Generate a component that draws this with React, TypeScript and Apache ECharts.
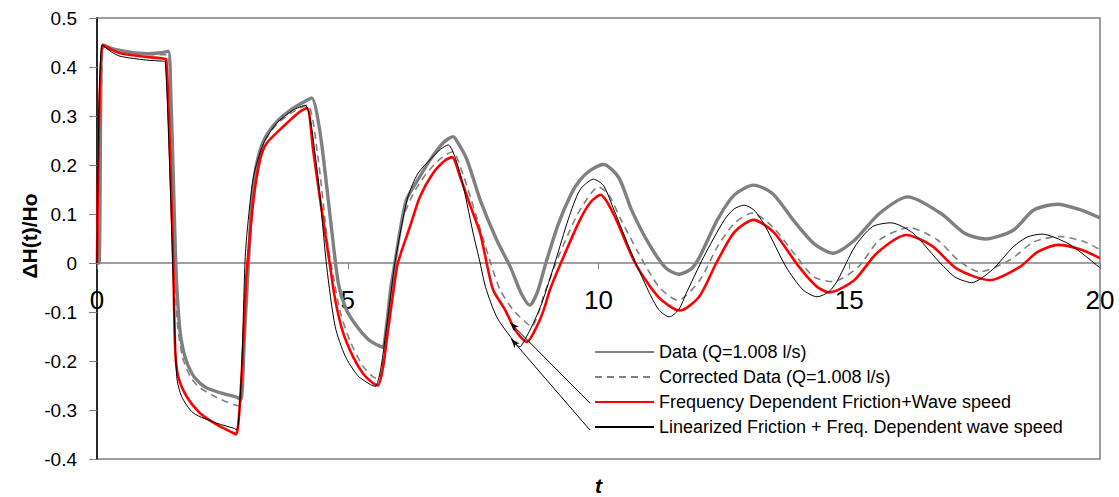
import React, { useEffect, useRef } from 'react';
import * as echarts from 'echarts';

// ---- axis ranges / ticks ----
const xMin = 0;
const xMax = 20;
const xInterval = 5;
const yMin = -0.4;
const yMax = 0.5;
const yInterval = 0.1;

// ---- texts ----
const yTitle = 'ΔH(t)/Ho';
const xTitle = 't';
const seriesNames = [
  'Data (Q=1.008 l/s)',
  'Corrected Data (Q=1.008 l/s)',
  'Frequency Dependent Friction+Wave speed',
  'Linearized Friction + Freq. Dependent wave speed',
];

// ---- series values [t, ΔH/Ho] ----
const dataMeasured: [number, number][] = [
  [0, 0], [0.04, 0.0], [0.12, 0.445], [0.32, 0.437], [0.66, 0.43], [0.99, 0.427], [1.26, 0.429], [1.42, 0.432],
  [1.47, 0.35], [1.52, 0.18], [1.57, 0.0], [1.61, -0.08], [1.66, -0.143], [1.75, -0.19], [1.89, -0.225],
  [2.05, -0.245], [2.19, -0.255], [2.5, -0.266], [2.79, -0.274], [2.87, -0.278], [2.94, -0.15], [3.02, 0.0],
  [3.1, 0.14], [3.2, 0.21], [3.35, 0.255], [3.6, 0.29], [3.9, 0.315], [4.15, 0.33], [4.28, 0.337],
  [4.45, 0.265], [4.65, 0.094], [4.81, -0.04], [4.95, -0.09], [5.15, -0.125], [5.4, -0.155], [5.6, -0.168],
  [5.7, -0.172], [5.77, -0.13], [5.86, -0.05], [5.94, 0.0], [6.05, 0.07], [6.17, 0.129], [6.37, 0.165],
  [6.64, 0.21], [6.9, 0.245], [7.1, 0.258], [7.2, 0.245], [7.38, 0.21], [7.64, 0.129], [7.97, 0.047],
  [8.25, -0.01], [8.45, -0.06], [8.63, -0.086], [8.78, -0.06], [8.95, 0.0], [9.2, 0.08], [9.45, 0.14],
  [9.63, 0.169], [9.85, 0.19], [10.1, 0.201], [10.4, 0.175], [10.66, 0.108], [11.0, 0.04], [11.34, -0.01],
  [11.6, -0.023], [11.85, -0.012], [12.02, 0.013], [12.37, 0.088], [12.71, 0.139], [13.09, 0.159],
  [13.47, 0.142], [13.88, 0.088], [14.29, 0.04], [14.67, 0.02], [15.11, 0.047], [15.6, 0.101],
  [16.17, 0.135], [16.83, 0.101], [17.31, 0.06], [17.72, 0.049], [18.27, 0.067], [18.68, 0.108],
  [19.15, 0.12], [19.63, 0.108], [20.0, 0.092],
];

const dataCorrected: [number, number][] = [
  [0, 0], [0.05, 0.0], [0.13, 0.442], [0.4, 0.435], [0.7, 0.428], [1.0, 0.425], [1.4, 0.425], [1.46, 0.35],
  [1.51, 0.18], [1.55, 0.0], [1.6, -0.12], [1.7, -0.19], [1.85, -0.23], [2.02, -0.252], [2.3, -0.27],
  [2.55, -0.282], [2.75, -0.29], [2.85, -0.292], [2.92, -0.15], [3.0, 0.0], [3.1, 0.15], [3.2, 0.21],
  [3.35, 0.25], [3.6, 0.285], [3.9, 0.308], [4.2, 0.322], [4.4, 0.22], [4.6, 0.04], [4.7, -0.02],
  [4.85, -0.1], [5.05, -0.16], [5.3, -0.21], [5.5, -0.232], [5.62, -0.237], [5.72, -0.19], [5.82, -0.1],
  [5.95, 0.0], [6.1, 0.09], [6.3, 0.14], [6.55, 0.18], [6.85, 0.213], [7.09, 0.227], [7.3, 0.18],
  [7.55, 0.1], [7.85, 0.0], [8.04, -0.055], [8.3, -0.096], [8.57, -0.123], [8.67, -0.13], [8.8, -0.103],
  [8.9, -0.069], [9.15, 0.0], [9.4, 0.06], [9.63, 0.108], [10.0, 0.155], [10.2, 0.14], [10.45, 0.088],
  [10.8, 0.02], [11.2, -0.048], [11.58, -0.076], [12.02, -0.035], [12.37, 0.033], [12.71, 0.081],
  [13.06, 0.102], [13.47, 0.074], [13.95, 0.013], [14.29, -0.028], [14.67, -0.038], [15.18, -0.008],
  [15.6, 0.047], [16.2, 0.072], [16.76, 0.047], [17.17, 0.006], [17.6, -0.018], [18.2, 0.006],
  [18.68, 0.043], [19.2, 0.054], [19.7, 0.043], [20.0, 0.027],
];

const freqDependent: [number, number][] = [
  [0, 0], [0.11, 0.445], [0.3, 0.435], [0.46, 0.428], [0.86, 0.422], [1.33, 0.417], [1.38, 0.416], [1.45, 0.25],
  [1.52, 0.0], [1.56, -0.178], [1.62, -0.232], [1.79, -0.273], [2.05, -0.306], [2.39, -0.33],
  [2.72, -0.347], [2.77, -0.35], [2.82, -0.327], [2.9, -0.2], [2.97, -0.04], [3.0, 0.0], [3.12, 0.129],
  [3.25, 0.21], [3.38, 0.244], [3.71, 0.278], [4.05, 0.309], [4.19, 0.316], [4.31, 0.23], [4.45, 0.129],
  [4.65, -0.008], [4.75, -0.075], [4.9, -0.14], [5.1, -0.19], [5.3, -0.225], [5.5, -0.245], [5.6, -0.25],
  [5.7, -0.215], [5.8, -0.14], [5.9, -0.065], [6.0, 0.0], [6.24, 0.074], [6.44, 0.135], [6.7, 0.183],
  [6.95, 0.21], [7.08, 0.216], [7.24, 0.176], [7.45, 0.115], [7.64, 0.061], [7.77, 0.0], [7.9, -0.055],
  [8.14, -0.096], [8.34, -0.137], [8.57, -0.161], [8.8, -0.123], [8.93, -0.089], [9.03, -0.055],
  [9.25, 0.0], [9.63, 0.088], [9.85, 0.125], [10.04, 0.139], [10.3, 0.1], [10.73, 0.0], [11.2, -0.07],
  [11.62, -0.097], [12.0, -0.07], [12.35, 0.0], [12.71, 0.063], [13.09, 0.088], [13.5, 0.062],
  [14.0, -0.008], [14.35, -0.048], [14.6, -0.06], [15.1, -0.035], [15.55, 0.02], [16.14, 0.057],
  [16.65, 0.035], [17.15, -0.012], [17.8, -0.035], [18.4, -0.008], [18.75, 0.022], [19.16, 0.037],
  [19.6, 0.028], [20.0, 0.01],
];

const linearized: [number, number][] = [
  [0, 0], [0.1, 0.445], [0.3, 0.43], [0.46, 0.422], [0.99, 0.414], [1.31, 0.412], [1.36, 0.411], [1.44, 0.22],
  [1.51, 0.0], [1.59, -0.232], [1.69, -0.273], [1.92, -0.306], [2.39, -0.327], [2.72, -0.337],
  [2.78, -0.34], [2.82, -0.327], [2.89, -0.2], [2.95, 0.0], [2.99, 0.06], [3.12, 0.176], [3.32, 0.244],
  [3.58, 0.285], [3.91, 0.312], [4.15, 0.322], [4.38, 0.197], [4.58, -0.007], [4.75, -0.13],
  [4.95, -0.19], [5.2, -0.23], [5.45, -0.248], [5.55, -0.252], [5.65, -0.22], [5.75, -0.15],
  [5.85, -0.07], [5.94, 0.0], [6.07, 0.074], [6.2, 0.135], [6.4, 0.183], [6.67, 0.214], [6.85, 0.232],
  [7.0, 0.241], [7.24, 0.183], [7.5, 0.061], [7.64, 0.0], [7.75, -0.05], [7.97, -0.11], [8.24, -0.15],
  [8.43, -0.171], [8.53, -0.157], [8.7, -0.123], [8.87, -0.082], [9.13, 0.0], [9.4, 0.09],
  [9.63, 0.149], [9.9, 0.171], [10.1, 0.158], [10.31, 0.108], [10.66, 0.02], [11.0, -0.058],
  [11.2, -0.095], [11.41, -0.11], [11.6, -0.095], [11.75, -0.062], [12.1, 0.013], [12.51, 0.088],
  [12.7, 0.11], [12.9, 0.118], [13.1, 0.108], [13.33, 0.074], [13.74, -0.008], [14.08, -0.055],
  [14.36, -0.069], [14.6, -0.058], [14.77, -0.035], [15.11, 0.033], [15.46, 0.074], [15.83, 0.082],
  [16.27, 0.061], [16.76, 0.006], [17.1, -0.028], [17.44, -0.04], [17.85, -0.014], [18.27, 0.033],
  [18.55, 0.053], [18.84, 0.059], [19.36, 0.04], [19.7, 0.015], [20.0, -0.01],
];

// ---- annotation arrows (legend -> curves), in data coordinates ----
const arrowStarts: [number, number][] = [[9.83, -0.286], [9.83, -0.341]];
const arrowEnds: [number, number][] = [[8.24, -0.122], [8.26, -0.155]];

const FONT = "'Liberation Sans', Arial, Helvetica, sans-serif";

const W = 1119;
const H = 497;
const GRID = { left: 97, right: 19, top: 18, bottom: 38 };

export default function App() {
  const ref = useRef<HTMLDivElement>(null);
  useEffect(() => {
    if (!ref.current) return;
    const chart = echarts.init(ref.current, null, { renderer: 'svg' });
    const fmtY = (v: number) => {
      const r = Math.round(v * 10) / 10;
      return r === 0 ? '0' : String(r);
    };
    const gridH = H - GRID.top - GRID.bottom;
    // move the x axis (line, ticks, labels, name) up to the y = 0 level
    const zeroOffset = -(gridH * (0 - yMin)) / (yMax - yMin);
    const lineSeries = (name: string, data: [number, number][], lineStyle: any, color: string, z: number) => ({
      name,
      type: 'line',
      data,
      showSymbol: false,
      symbol: 'none',
      smooth: 0.25,
      lineStyle: { color, ...lineStyle },
      itemStyle: { color },
      z,
    });
    chart.setOption({
      animation: false,
      backgroundColor: '#ffffff',
      textStyle: { fontFamily: FONT },
      grid: {
        ...GRID,
        outerBoundsMode: 'none',
        containLabel: false,
        show: true,
        borderColor: '#808080',
        borderWidth: 1.5,
        backgroundColor: 'transparent',
      },
      legend: {
        orient: 'vertical',
        left: 594,
        top: 343,
        padding: 0,
        itemWidth: 59,
        itemHeight: 14,
        itemGap: 7,
        selectedMode: false,
        itemStyle: { opacity: 0 },
        textStyle: { fontSize: 18, color: '#000', fontFamily: FONT, lineHeight: 18 },
        data: seriesNames,
      },
      graphic: [
        {
          type: 'text',
          x: 29,
          y: 236,
          rotation: Math.PI / 2,
          silent: true,
          style: {
            text: yTitle,
            fill: '#000',
            font: `bold 21px ${FONT}`,
            textAlign: 'center',
            textVerticalAlign: 'middle',
          },
        },
      ],
      xAxis: {
        type: 'value',
        min: xMin,
        max: xMax,
        interval: xInterval,
        position: 'bottom',
        offset: zeroOffset,
        name: xTitle,
        nameLocation: 'middle',
        nameGap: 212,
        nameTextStyle: { fontSize: 21, fontWeight: 'bold', fontStyle: 'italic', color: '#000', fontFamily: FONT },
        axisLine: { onZero: false, lineStyle: { color: '#808080', width: 1.5 } },
        axisTick: { show: true, inside: false, length: 6, lineStyle: { color: '#808080', width: 1 } },
        axisLabel: { fontSize: 26, color: '#000', margin: 24, fontFamily: FONT },
        splitLine: { show: false },
      },
      yAxis: {
        type: 'value',
        min: yMin,
        max: yMax,
        interval: yInterval,
        axisLine: { show: true, onZero: false, lineStyle: { color: '#000', width: 1.5 } },
        axisTick: { show: true, inside: false, length: 8, lineStyle: { color: '#808080', width: 1 } },
        axisLabel: { fontSize: 19, color: '#000', margin: 20, formatter: fmtY, fontFamily: FONT },
        splitLine: { show: false },
      },
      series: [
        lineSeries(seriesNames[0], dataMeasured, { width: 3.4 }, '#808080', 2),
        lineSeries(seriesNames[1], dataCorrected, { width: 1.6, type: [7, 5] }, '#808080', 3),
        lineSeries(seriesNames[2], freqDependent, { width: 2.6 }, '#ff0000', 4),
        {
          ...lineSeries(seriesNames[3], linearized, { width: 1 }, '#000000', 5),
          markLine: {
            silent: true,
            symbol: ['none', 'arrow'],
            symbolSize: [5, 9],
            label: { show: false },
            emphasis: { disabled: true },
            lineStyle: { color: '#000', width: 1, type: 'solid' },
            data: arrowStarts.map((s, i) => [{ coord: s }, { coord: arrowEnds[i] }]),
          },
        },
      ],
    });
    return () => chart.dispose();
  }, []);
  return (
    <div
      ref={ref}
      style={{ position: 'absolute', left: 0, top: 0, width: W, height: H, background: '#fff' }}
    />
  );
}
